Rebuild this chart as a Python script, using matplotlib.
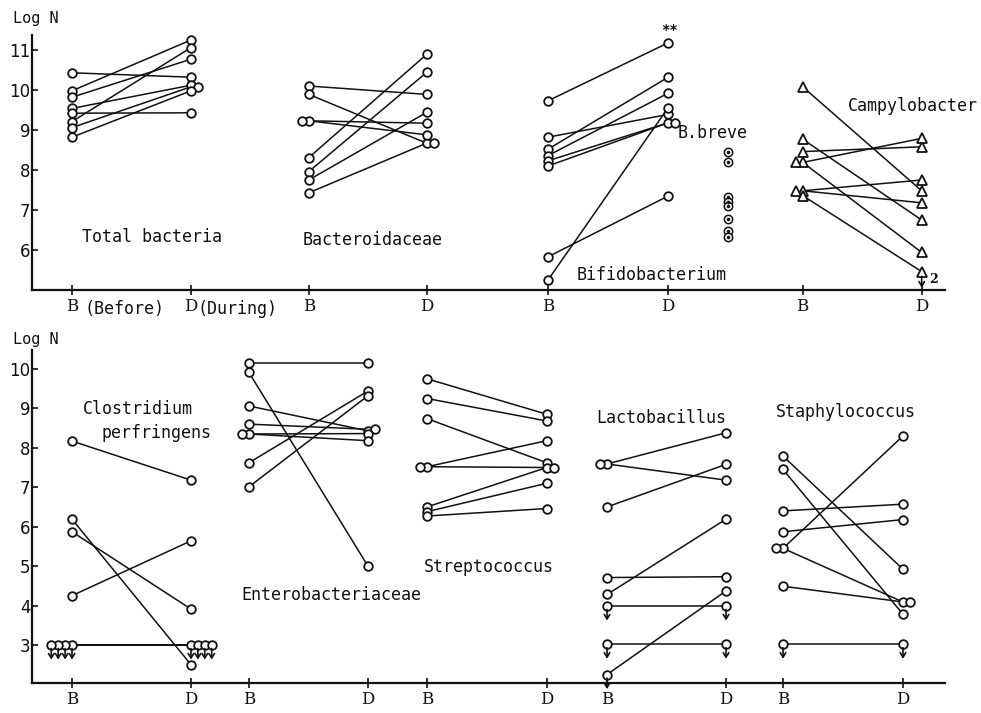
import matplotlib
matplotlib.use("Agg")
import matplotlib.pyplot as plt

# ---------------- data (log N) ----------------
# top panel: before (B) and during (D) counts, one entry per subject
total_b = [10.43, 9.98, 9.82, 9.54, 9.42, 9.21, 9.06, 8.82]
total_d = [10.32, 11.25, 10.77, 10.12, 9.43, 11.06, 10.08, 9.98]

bact_b = [10.10, 9.89, 9.23, 9.23, 8.31, 7.96, 7.75, 7.43]
bact_d = [9.89, 8.67, 9.17, 8.88, 10.89, 10.44, 9.44, 8.67]

bifi_b = [9.73, 8.82, 8.52, 8.36, 8.23, 8.10, 5.83, 5.25]
bifi_d = [11.18, 9.39, 10.32, 9.92, 9.18, 9.18, 7.35, 9.56]

breve = [8.44, 8.19, 7.33, 7.21, 7.10, 6.77, 6.48, 6.32]

campy_b = [10.08, 8.77, 8.46, 8.19, 8.19, 7.48, 7.48, 7.36]
campy_d = [7.48, 6.75, 8.58, 8.79, 5.94, 7.75, 7.18, 5.46]
campy_d_below = [0, 0, 0, 0, 0, 0, 0, 1]
campy_below_n = "2"

# bottom panel
clos_b = [8.17, 6.19, 5.87, 4.25, 3.0, 3.0, 3.0, 3.0]
clos_d = [7.18, 2.50, 3.91, 5.64, 3.0, 3.0, 3.0, 3.0]
clos_b_below = [0, 0, 0, 0, 1, 1, 1, 1]
clos_d_below = [0, 0, 0, 0, 1, 1, 1, 1]

entero_b = [10.14, 9.91, 9.06, 8.60, 8.35, 8.35, 7.62, 7.01]
entero_d = [10.14, 5.00, 8.43, 8.47, 8.36, 8.18, 9.44, 9.32]

strep_b = [9.75, 9.25, 8.74, 7.52, 7.52, 6.50, 6.38, 6.27]
strep_d = [8.85, 8.68, 7.62, 8.18, 7.50, 7.50, 7.10, 6.46]

lacto_b = [7.59, 7.59, 6.50, 4.71, 4.28, 3.99, 3.02, 2.25]
lacto_d = [8.38, 7.18, 7.58, 4.73, 6.19, 3.99, 3.02, 4.37]
lacto_b_below = [0, 0, 0, 0, 0, 1, 1, 1]
lacto_d_below = [0, 0, 0, 0, 0, 1, 1, 0]

staph_b = [7.79, 7.45, 6.40, 5.87, 5.45, 5.45, 4.49, 3.02]
staph_d = [4.92, 3.78, 6.57, 6.18, 8.30, 4.09, 4.09, 3.02]
staph_b_below = [0, 0, 0, 0, 0, 0, 0, 1]
staph_d_below = [0, 0, 0, 0, 0, 0, 0, 1]

top_yticks = [6, 7, 8, 9, 10, 11]
bottom_yticks = [3, 4, 5, 6, 7, 8, 9, 10]

# ---------------- styling ----------------
MONO = "DejaVu Sans Mono"
SERIF = "DejaVu Serif"
INK = "#111111"
LW = 1.1
STEP = 0.058          # sideways shift for coinciding markers
TOL = 0.06


def spread(values, side):
    """Horizontal shift (in slots) so coinciding markers sit side by side."""
    shifts = []
    for i, v in enumerate(values):
        n = sum(1 for w in values[:i] if abs(w - v) < TOL)
        shifts.append(side * n * STEP)
    return shifts


def down_arrow(ax, x, y, gap, length):
    ax.annotate("", xy=(x, y - gap - length), xytext=(x, y - gap),
                arrowprops=dict(arrowstyle="->,head_length=0.32,head_width=0.2",
                                lw=1.2, color=INK, shrinkA=0, shrinkB=0),
                annotation_clip=False, zorder=4)


def pairs(ax, xb, xd, before, after, marker="o", ms=6.2,
          b_below=None, d_below=None, gap=0.09, alen=0.28):
    for vb, vd in zip(before, after):
        ax.plot([xb, xd], [vb, vd], color=INK, lw=LW, zorder=2,
                solid_capstyle="butt")
    sb = spread(before, -1)
    sd = spread(after, +1)
    ax.plot([xb + s for s in sb], before, linestyle="none", marker=marker,
            ms=ms, mfc="white", mec=INK, mew=1.3, zorder=3)
    ax.plot([xd + s for s in sd], after, linestyle="none", marker=marker,
            ms=ms, mfc="white", mec=INK, mew=1.3, zorder=3)
    if b_below:
        for s, v, f in zip(sb, before, b_below):
            if f:
                down_arrow(ax, xb + s, v, gap, alen)
    if d_below:
        for s, v, f in zip(sd, after, d_below):
            if f:
                down_arrow(ax, xd + s, v, gap, alen)


def frame(ax, xticks, yticks, ylim):
    ax.set_xlim(-0.336, 7.336)
    ax.set_ylim(*ylim)
    for side in ("top", "right"):
        ax.spines[side].set_visible(False)
    for side in ("left", "bottom"):
        ax.spines[side].set_linewidth(1.6)
        ax.spines[side].set_color(INK)
    ax.set_xticks(xticks)
    ax.set_xticklabels(["B", "D"] * (len(xticks) // 2),
                       fontfamily=SERIF, fontsize=12, color=INK)
    ax.set_yticks(yticks)
    ax.set_yticklabels([str(t) for t in yticks], fontfamily="DejaVu Sans",
                       fontsize=12, color=INK)
    ax.tick_params(axis="x", direction="inout", length=7, width=1.2, pad=2,
                   color=INK)
    ax.tick_params(axis="y", direction="in", length=4, width=1.2, pad=1,
                   color=INK)


def label(ax, x, y, s, size=12, **kw):
    ax.text(x, y, s, fontfamily=MONO, fontsize=size, color=INK,
            ha="center", va="center", clip_on=False, **kw)


fig = plt.figure(figsize=(9.81, 7.13), dpi=100)
fig.patch.set_facecolor("white")

# ---------------- top panel ----------------
ax1 = fig.add_axes([32 / 981, 1 - 290 / 713, 913 / 981, 255 / 713])
pos_top = [0.0, 1.0, 1.99, 2.98, 4.0, 5.01, 6.14, 7.14]
frame(ax1, pos_top, top_yticks, (5.0, 11.375))

pairs(ax1, 0.0, 1.0, total_b, total_d)
pairs(ax1, 1.99, 2.98, bact_b, bact_d)
pairs(ax1, 4.0, 5.01, bifi_b, bifi_d)
pairs(ax1, 6.14, 7.14, campy_b, campy_d, marker="^", ms=7.0,
      d_below=campy_d_below, gap=0.12, alen=0.28)

# B. breve isolates: dotted rings in a single column
ax1.plot([5.51] * len(breve), breve, linestyle="none", marker="o", ms=6.0,
         mfc="white", mec=INK, mew=1.1, zorder=3)
ax1.plot([5.51] * len(breve), breve, linestyle="none", marker="o", ms=1.6,
         color=INK, zorder=4)

label(ax1, 0.67, 6.33, "Total bacteria")
label(ax1, 2.53, 6.25, "Bacteroidaceae")
label(ax1, 4.87, 5.38, "Bifidobacterium")
label(ax1, 5.38, 8.93, "B.breve")
label(ax1, 7.07, 9.60, "Campylobacter")
label(ax1, 5.02, 11.50, "**", size=10, fontweight="bold")
ax1.text(7.24, 5.26, campy_below_n, fontfamily=SERIF, fontsize=9,
         fontweight="bold", color=INK, ha="center", va="center", clip_on=False)
label(ax1, -0.30, 11.80, "Log N", size=11)
label(ax1, 0.445, 4.52, "(Before)")
label(ax1, 1.39, 4.52, "(During)")

# ---------------- bottom panel ----------------
ax2 = fig.add_axes([32 / 981, 1 - 683 / 713, 913 / 981, 333 / 713])
pos_bot = [0.0, 1.0, 1.487, 2.487, 2.983, 3.99, 4.496, 5.496, 5.975, 6.983]
frame(ax2, pos_bot, bottom_yticks, (2.035, 10.48))

pairs(ax2, 0.0, 1.0, clos_b, clos_d, b_below=clos_b_below,
      d_below=clos_d_below)
pairs(ax2, 1.487, 2.487, entero_b, entero_d)
pairs(ax2, 2.983, 3.99, strep_b, strep_d)
pairs(ax2, 4.496, 5.496, lacto_b, lacto_d, b_below=lacto_b_below,
      d_below=lacto_d_below)
pairs(ax2, 5.975, 6.983, staph_b, staph_d, b_below=staph_b_below,
      d_below=staph_d_below)

label(ax2, -0.30, 10.74, "Log N", size=11)
label(ax2, 0.55, 8.99, "Clostridium")
label(ax2, 0.71, 8.38, "perfringens")
label(ax2, 2.18, 4.27, "Enterobacteriaceae")
label(ax2, 3.50, 4.98, "Streptococcus")
label(ax2, 4.95, 8.76, "Lactobacillus")
label(ax2, 6.50, 8.91, "Staphylococcus")

fig.savefig("out.png", dpi=100, facecolor="white")
